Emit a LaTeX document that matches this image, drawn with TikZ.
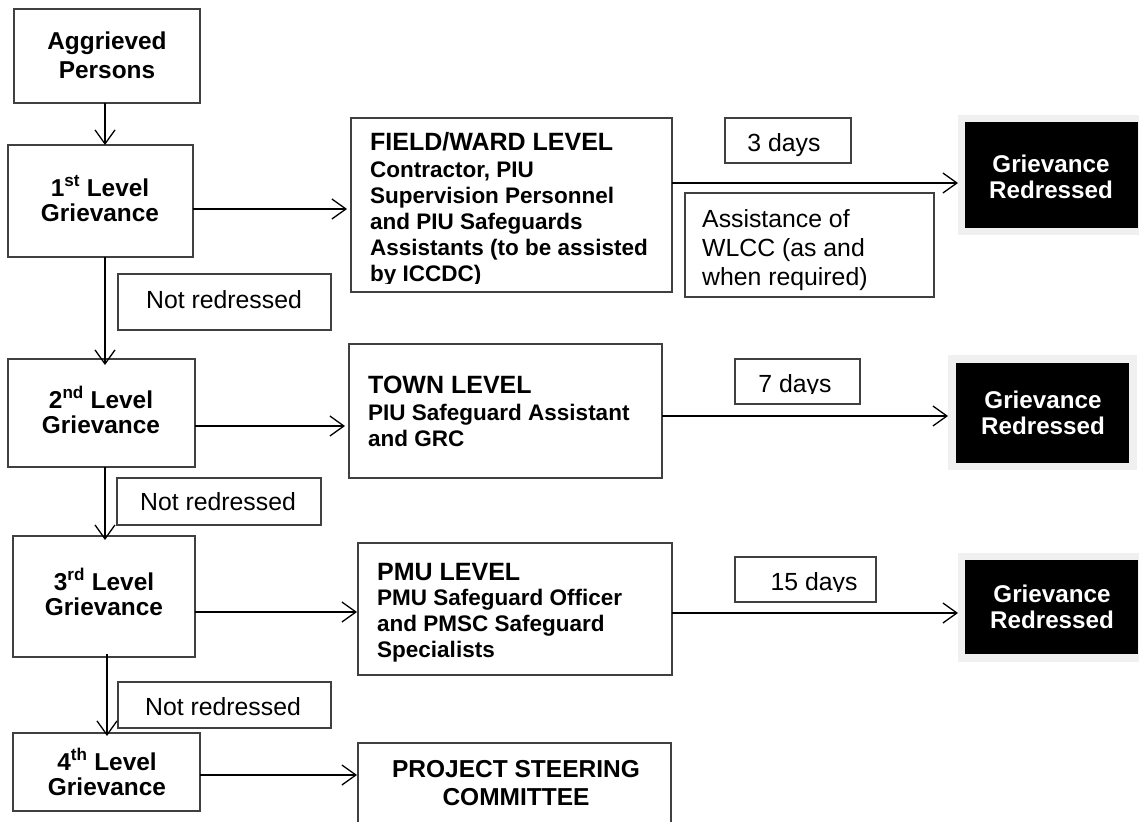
\documentclass[tikz,border=0pt]{standalone}
\usepackage{fontspec}
\setmainfont{Liberation Sans}
\usetikzlibrary{arrows.meta}
\begin{document}
\begin{tikzpicture}[x=1pt,y=-1pt,
  box/.style={draw=black!75, line width=1.1pt, anchor=north west, inner sep=0pt, outer sep=0pt},
  halo/.style={fill=black!6, draw=none, anchor=north west, inner sep=0pt, outer sep=0pt},
  blk/.style={fill=black, draw=none, anchor=north west, inner sep=0pt, outer sep=0pt},
  arr/.style={draw=black, line width=1.3pt, -{Straight Barb[length=14pt,width=20pt]}},
  lvl/.style={font=\bfseries\fontsize{24.4}{25}\selectfont, align=center, anchor=base, inner sep=0pt},
  wht/.style={font=\bfseries\fontsize{24.2}{26}\selectfont, text=white, align=center, anchor=base, inner sep=0pt},
  ttl/.style={font=\bfseries\fontsize{25}{26}\selectfont, align=left, anchor=base west, inner sep=0pt},
  body/.style={font=\bfseries\fontsize{22.5}{26}\selectfont, align=left, anchor=base west, inner sep=0pt},
  reg/.style={font=\fontsize{24.8}{29}\selectfont, align=left, anchor=base, inner sep=0pt},
  regl/.style={font=\fontsize{24.8}{29}\selectfont, align=left, anchor=base west, inner sep=0pt}
]
\clip (0,0) rectangle (1139,821);
\fill[white] (0,0) rectangle (1139,821);

% left column boxes
\node[box, minimum width=186pt, minimum height=94pt] (agg) at (14,9) {};
\node[box, minimum width=185pt, minimum height=112pt] (l1) at (8,145) {};
\node[box, minimum width=213pt, minimum height=56pt] (nr1) at (118,274) {};
\node[box, minimum width=187pt, minimum height=108pt] (l2) at (8,359) {};
\node[box, minimum width=204pt, minimum height=47pt] (nr2) at (117,478) {};
\node[box, minimum width=182pt, minimum height=121pt] (l3) at (13,536) {};
\node[box, minimum width=213pt, minimum height=46pt] (nr3) at (118,682) {};
\node[box, minimum width=187pt, minimum height=78pt] (l4) at (13,733) {};

% middle column boxes
\node[box, minimum width=321pt, minimum height=174pt] (field) at (351,118) {};
\node[box, minimum width=313pt, minimum height=134pt] (town) at (349,344) {};
\node[box, minimum width=314pt, minimum height=132pt] (pmu) at (358,543) {};
\node[box, minimum width=313pt, minimum height=110pt] (psc) at (358,743) {};

% labels boxes
\node[box, minimum width=126pt, minimum height=45pt] (d3) at (725,118) {};
\node[box, minimum width=249pt, minimum height=104pt] (assist) at (685,193) {};
\node[box, minimum width=125pt, minimum height=45pt] (d7) at (735,359) {};
\node[box, minimum width=141pt, minimum height=45pt] (d15) at (735,557) {};

% result boxes
\node[halo, minimum width=190pt, minimum height=120pt] (g1o) at (958,115) {};
\node[blk, minimum width=173pt, minimum height=106pt] (g1) at (965,122) {};
\node[halo, minimum width=189pt, minimum height=115pt] (g2o) at (948,355) {};
\node[blk, minimum width=173pt, minimum height=100pt] (g2) at (956,363) {};
\node[halo, minimum width=190pt, minimum height=109pt] (g3o) at (958,553) {};
\node[blk, minimum width=173pt, minimum height=94pt] (g3) at (965,560) {};

% texts (base anchor = baseline of the last line)
\node[lvl, font=\bfseries\fontsize{24.4}{29}\selectfont] (taggr) at (107,79) {Aggrieved\\Persons};
\node[lvl] (tl1) at (100,221) {1\textsuperscript{st} Level\\Grievance};
\node[lvl] (tl2) at (101,433) {2\textsuperscript{nd} Level\\Grievance};
\node[lvl] (tl3) at (104,615) {3\textsuperscript{rd} Level\\Grievance};
\node[lvl] (tl4) at (107,795) {4\textsuperscript{th} Level\\Grievance};

\node[reg] (tnr1) at (224,308) {Not redressed};
\node[reg] (tnr2) at (218,510) {Not redressed};
\node[reg] (tnr3) at (223,715) {Not redressed};

\node[ttl] (tfield) at (370,151) {FIELD/WARD LEVEL};
\begin{scope}
  \clip (351,118) rectangle (672,283);
  \node[body] (bfield) at (370,281) {Contractor, PIU\\Supervision Personnel\\and PIU Safeguards\\Assistants (to be assisted\\by ICCDC)};
\end{scope}
\node[ttl] (ttown) at (368,393) {TOWN LEVEL};
\node[body] (btown) at (368,446) {PIU Safeguard Assistant\\and GRC};
\node[ttl] (tpmu) at (377,580) {PMU LEVEL};
\node[body] (bpmu) at (377,657) {PMU Safeguard Officer\\and PMSC Safeguard\\Specialists};
\node[lvl, font=\bfseries\fontsize{24.5}{28}\selectfont] (tpsc) at (516,805) {PROJECT STEERING\\COMMITTEE};

\node[reg] (td3) at (784,152) {3 days};
\begin{scope}
  \clip (735,359) rectangle (860,393);
  \node[reg] (td7) at (795,392) {7 days};
\end{scope}
\begin{scope}
  \clip (735,557) rectangle (876,591);
  \node[reg] (td15) at (814,590) {15 days};
\end{scope}
\node[regl] (tassist) at (702,285) {Assistance of\\WLCC (as and\\when required)};

\node[wht] (tg1) at (1051,198) {Grievance\\Redressed};
\node[wht] (tg2) at (1043,434) {Grievance\\Redressed};
\node[wht] (tg3) at (1052,628) {Grievance\\Redressed};

% connector guides
\coordinate (va) at (105,0);
\coordinate (vb) at (107,0);
\coordinate (h1) at (0,209);
\coordinate (h2) at (0,426);
\coordinate (h3) at (0,612);
\coordinate (h4) at (0,775);
\coordinate (r1) at (0,183);
\coordinate (r2) at (0,416);
\coordinate (r3) at (0,613);

% vertical connectors
\draw[arr] (va |- agg.south) -- (va |- l1.north);
\draw[arr] (va |- l1.south) -- ([yshift=-6pt]va |- l2.north);
\draw[arr] (va |- l2.south) -- ([yshift=-4pt]va |- l3.north);
\draw[arr] ([yshift=3pt]vb |- l3.south) -- ([yshift=-3pt]vb |- l4.north);

% horizontal connectors
\draw[arr, shorten >=4pt] (h1 -| l1.east) -- (h1 -| field.west);
\draw[arr, shorten >=4pt] (h2 -| l2.east) -- (h2 -| town.west);
\draw[arr, shorten >=1pt] (h3 -| l3.east) -- (h3 -| pmu.west);
\draw[arr, shorten >=1pt] (h4 -| l4.east) -- (h4 -| psc.west);
\draw[arr] (r1 -| field.east) -- (r1 -| g1o.west);
\draw[arr] (r2 -| town.east) -- (r2 -| g2o.west);
\draw[arr] (r3 -| pmu.east) -- (r3 -| g3o.west);
\end{tikzpicture}
\end{document}
